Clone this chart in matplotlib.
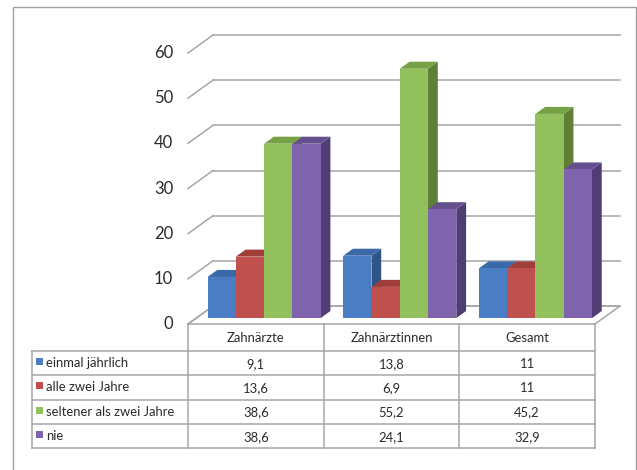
import matplotlib
matplotlib.use("Agg")
import matplotlib.pyplot as plt
from matplotlib.patches import Polygon, Rectangle

plt.rcParams['font.family'] = ['Lato', 'DejaVu Sans']

# data
categories = ['Zahnärzte', 'Zahnärztinnen', 'Gesamt']
series = ['einmal jährlich', 'alle zwei Jahre', 'seltener als zwei Jahre', 'nie']
einmal = [9.1, 13.8, 11]
alle_zwei = [13.6, 6.9, 11]
seltener = [38.6, 55.2, 45.2]
nie = [38.6, 24.1, 32.9]
values = [einmal, alle_zwei, seltener, nie]
yticks = [0, 10, 20, 30, 40, 50, 60]

def fmt(v):
    return ('%g' % v).replace('.', ',')

# front, top, side colours per series
front = ['#4a7dc4', '#c0504d', '#92c05c', '#7f63ad']
top = ['#3a68a8', '#a23e3a', '#77a145', '#65508f']
side = ['#2f5587', '#883230', '#5f7e36', '#4f3d74']
grid_c = '#a6a6a6'
text_c = '#2b2b2b'

W, H = 637, 470
fig = plt.figure(figsize=(W / 100, H / 100), dpi=100)

# pixel layout of the plot area (front plane)
px_left, px_right = 188, 595
px_zero, px_top = 324, 53
ax = fig.add_axes([px_left / W, 1 - px_zero / H,
                   (px_right - px_left) / W, (px_zero - px_top) / H])
ax.set_xlim(0, len(categories))
ax.set_ylim(0, 60)
ax.axis('off')

# depth of the floor in data units
cat_px = (px_right - px_left) / len(categories)
val_px = (px_zero - px_top) / 60
depth_x = 25 / cat_px
depth_y = 18 / val_px

def poly(pts, fc, ec='none', lw=0.0, z=2):
    ax.add_patch(Polygon(pts, closed=True, facecolor=fc, edgecolor=ec,
                         linewidth=lw, clip_on=False, zorder=z))

# back wall gridlines plus the short diagonals on the left wall
for v in yticks:
    ax.plot([depth_x, len(categories) + depth_x], [v + depth_y, v + depth_y],
            color=grid_c, lw=1.1, clip_on=False, zorder=1)
    ax.plot([0, depth_x], [v, v + depth_y], color=grid_c, lw=1.1,
            clip_on=False, zorder=1)
    ax.text(-0.11, v, str(v), ha='right', va='center', fontsize=12,
            color=text_c, transform=ax.transData)

# floor outline
ax.plot([0, len(categories), len(categories) + depth_x, depth_x, 0],
        [0, 0, depth_y, depth_y, 0], color=grid_c, lw=1.1, clip_on=False,
        zorder=1)

# 3d bars: front face sits a third into the floor depth
f_front, f_back = 0.33, 0.72
ox, oy = depth_x * f_front, depth_y * f_front
dx, dy = depth_x * (f_back - f_front), depth_y * (f_back - f_front)
bar_w = 0.2085
gap = (1 - bar_w * len(series)) / 2
z = 2
for i in range(len(categories)):
    for j in range(len(series)):
        h = values[j][i]
        x0 = i + gap + j * bar_w + ox
        x1 = x0 + bar_w
        y0, y1 = oy, oy + h
        poly([(x1, y0), (x1 + dx, y0 + dy), (x1 + dx, y1 + dy), (x1, y1)],
             side[j], z=z)
        poly([(x0, y1), (x1, y1), (x1 + dx, y1 + dy), (x0 + dx, y1 + dy)],
             top[j], z=z)
        poly([(x0, y0), (x1, y0), (x1, y1), (x0, y1)], front[j], z=z)
        z += 1

# overlay axes in pixel units for the frame and data table
ov = fig.add_axes([0, 0, 1, 1], zorder=5)
ov.set_xlim(0, W)
ov.set_ylim(H, 0)
ov.axis('off')
ov.patch.set_alpha(0)

ov.add_patch(Rectangle((13, 7), 623, 470, fill=False, edgecolor='#a0a0a0',
                       lw=1.0))

tbl_left = 32
col_x = [px_left + k * cat_px for k in range(len(categories) + 1)]
row_y = [351, 375.25, 399.5, 423.75, 448]
line_kw = dict(color=grid_c, lw=1.1)
for y in row_y:
    ov.plot([tbl_left, px_right], [y, y], **line_kw)
for x in col_x:
    ov.plot([x, x], [px_zero, row_y[-1]], **line_kw)
ov.plot([tbl_left, tbl_left], [row_y[0], row_y[-1]], **line_kw)

fs = 9.4
for k, c in enumerate(categories):
    ov.text((col_x[k] + col_x[k + 1]) / 2, (px_zero + row_y[0]) / 2 + 1, c,
            ha='center', va='center', fontsize=fs, color=text_c)

for j, s in enumerate(series):
    yc = (row_y[j] + row_y[j + 1]) / 2
    ov.add_patch(Rectangle((36, yc - 5), 7, 7, facecolor=front[j],
                           edgecolor='none'))
    ov.text(46, yc, s, ha='left', va='center', fontsize=fs, color=text_c)
    for k in range(len(categories)):
        ov.text((col_x[k] + col_x[k + 1]) / 2, yc + 1, fmt(values[j][k]),
                ha='center', va='center', fontsize=fs, color=text_c)

fig.savefig('out.png', dpi=100)
